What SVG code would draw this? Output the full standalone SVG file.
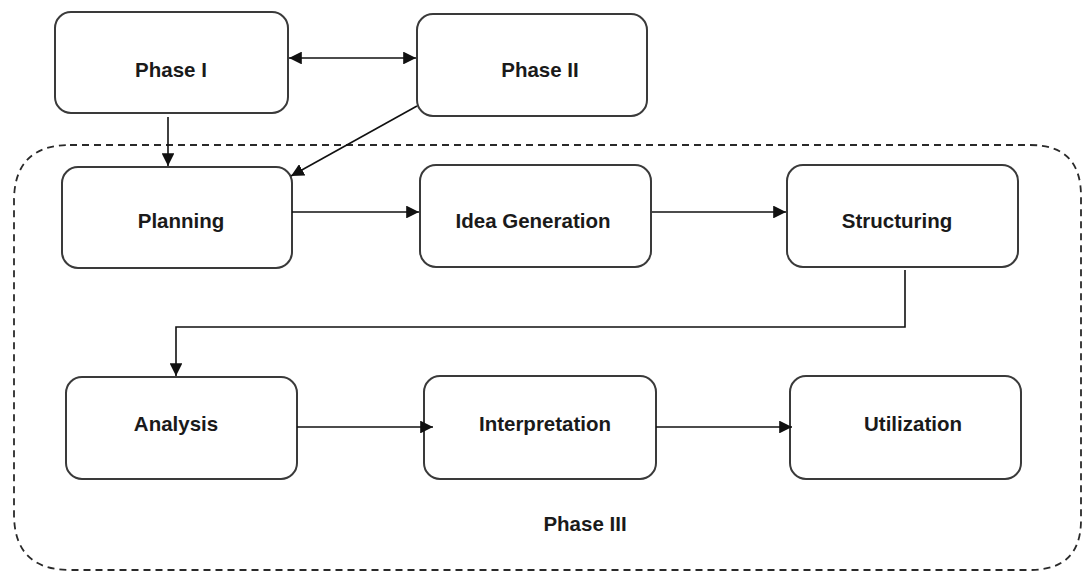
<svg xmlns="http://www.w3.org/2000/svg" width="1083" height="573" viewBox="0 0 1083 573">
  <style>
    .box { fill: #ffffff; stroke: #3a3a3a; stroke-width: 2; }
    .lbl { font-family: "Liberation Sans", Arial, sans-serif; font-weight: bold; font-size: 20.5px; fill: #1a1a1a; text-anchor: middle; }
    .wire { fill: none; stroke: #111111; stroke-width: 1.6; }
    .frame { fill: none; stroke: #2a2a2a; stroke-width: 1.8; stroke-dasharray: 7 5; }
  </style>
  <defs>
    <marker id="head" viewBox="0 0 10 10" refX="10" refY="5" markerWidth="8" markerHeight="8" markerUnits="strokeWidth" orient="auto-start-reverse">
      <path d="M0,0 L10,5 L0,10 z" fill="#111111"/>
    </marker>
  </defs>
  <rect width="1083" height="573" fill="#ffffff"/>

  <!-- Phase III container -->
  <g id="phase3">
    <path class="frame" d="M70,145 H1030 Q1081,145 1081,196 V520 Q1081,570 1030,570 H70 Q14,570 14,514 V201 Q14,145 70,145 Z"/>
    <text class="lbl" x="585" y="531">Phase III</text>
  </g>

  <g id="phase1">
    <rect class="box" x="55" y="12" width="233" height="101" rx="16"/>
    <text class="lbl" x="171" y="77">Phase I</text>
  </g>
  <g id="phase2">
    <rect class="box" x="417" y="14" width="230" height="102" rx="16"/>
    <text class="lbl" x="540" y="77">Phase II</text>
  </g>
  <g id="planning">
    <rect class="box" x="62" y="167" width="230" height="101" rx="16"/>
    <text class="lbl" x="181" y="228">Planning</text>
  </g>
  <g id="idea">
    <rect class="box" x="420" y="165" width="231" height="102" rx="16"/>
    <text class="lbl" x="533" y="228">Idea Generation</text>
  </g>
  <g id="structuring">
    <rect class="box" x="787" y="165" width="231" height="102" rx="16"/>
    <text class="lbl" x="897" y="228">Structuring</text>
  </g>
  <g id="analysis">
    <rect class="box" x="66" y="377" width="231" height="102" rx="16"/>
    <text class="lbl" x="176" y="431">Analysis</text>
  </g>
  <g id="interpretation">
    <rect class="box" x="424" y="376" width="232" height="103" rx="16"/>
    <text class="lbl" x="545" y="431">Interpretation</text>
  </g>
  <g id="utilization">
    <rect class="box" x="790" y="376" width="231" height="103" rx="16"/>
    <text class="lbl" x="913" y="431">Utilization</text>
  </g>

  <g id="connectors">
    <line class="wire" x1="289" y1="58" x2="416" y2="58" marker-start="url(#head)" marker-end="url(#head)"/>
    <line class="wire" x1="168" y1="117" x2="168" y2="166" marker-end="url(#head)"/>
    <line class="wire" x1="417" y1="106" x2="291" y2="176" marker-end="url(#head)"/>
    <line class="wire" x1="292" y1="212" x2="419" y2="212" marker-end="url(#head)"/>
    <line class="wire" x1="652" y1="212" x2="786" y2="212" marker-end="url(#head)"/>
    <polyline class="wire" points="905,270 905,327 176,327 176,376" marker-end="url(#head)"/>
    <line class="wire" x1="297" y1="427" x2="433" y2="427" marker-end="url(#head)"/>
    <line class="wire" x1="656" y1="427" x2="792" y2="427" marker-end="url(#head)"/>
  </g>
</svg>
